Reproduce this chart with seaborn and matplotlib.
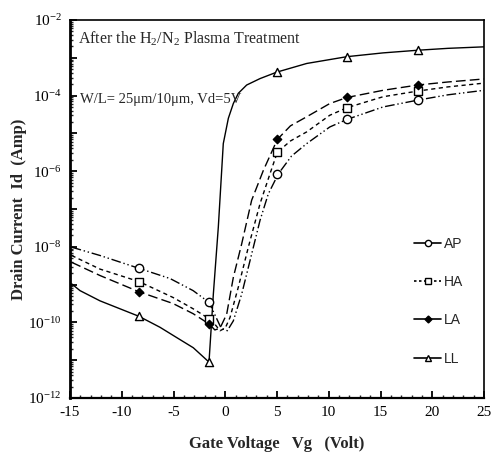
import numpy as np
import pandas as pd
import matplotlib
matplotlib.use("Agg")
import matplotlib.pyplot as plt
import seaborn as sns
from matplotlib.ticker import LogLocator, FuncFormatter, MultipleLocator, NullFormatter
from matplotlib.lines import Line2D

# ---------------- data (log10 of Id in A) ----------------
series_names = ["AP", "HA", "LA", "LL"]

ap_vg = [-14.84, -12.1, -8.33, -5.33, -3.1, -1.57, -1.0, -0.4, 0.2, 0.78, 1.59, 2.39, 3.36, 4.16, 5.13,
         6.4, 7.87, 10.1, 11.76, 15.25, 18.6, 21.5, 25.0]
ap_log = [-8.01, -8.23, -8.57, -8.84, -9.16, -9.47, -9.8, -10.15, -10.22, -9.96, -9.25, -8.37, -7.3, -6.6, -6.07,
          -5.6, -5.27, -4.83, -4.63, -4.3, -4.12, -3.98, -3.86]

ha_vg = [-14.84, -12.1, -8.33, -5.05, -3.1, -1.57, -1.0, -0.5, 0.0, 0.46, 1.26, 2.23, 3.36, 4.32, 5.03,
         6.3, 7.87, 10.1, 11.76, 15.25, 18.6, 21.5, 25.0]
ha_log = [-8.23, -8.59, -8.92, -9.34, -9.64, -9.9, -10.05, -10.22, -10.15, -9.87, -9.07, -8.01, -6.86, -6.07, -5.5,
          -5.2, -4.96, -4.52, -4.32, -4.03, -3.88, -3.77, -3.67]

la_vg = [-14.84, -12.1, -8.33, -5.05, -3.1, -1.57, -1.0, -0.5, 0.14, 0.78, 1.59, 2.55, 3.68, 5.03,
         6.3, 7.87, 10.1, 11.76, 15.25, 18.6, 21.5, 25.0]
la_log = [-8.41, -8.76, -9.19, -9.5, -9.77, -10.04, -10.2, -10.15, -9.78, -8.81, -7.92, -6.77, -5.98, -5.16,
          -4.8, -4.56, -4.21, -4.05, -3.86, -3.72, -3.64, -3.56]

ll_vg = [-14.84, -14.03, -12.1, -8.33, -6.3, -4.7, -3.09, -1.57, -1.15, -0.67, -0.19, 0.3, 0.78, 1.26,
         2.07, 3.36, 4.97, 7.87, 11.76, 15.25, 18.6, 21.5, 25.0]
ll_log = [-8.98, -9.16, -9.43, -9.84, -10.13, -10.4, -10.67, -11.05, -9.25, -7.48, -5.27, -4.6, -4.21, -3.94,
          -3.72, -3.55, -3.38, -3.15, -2.97, -2.87, -2.8, -2.75, -2.71]

# marker positions and values
marker_vg = [-8.33, -1.57, 5.03, 11.76, 18.6]
ap_mk_log = [-8.57, -9.47, -6.07, -4.63, -4.12]
ha_mk_log = [-8.92, -9.9, -5.5, -4.32, -3.88]
la_mk_log = [-9.19, -10.04, -5.16, -4.05, -3.72]
ll_mk_log = [-9.84, -11.05, -3.38, -2.97, -2.8]

x_ticks = [-15, -10, -5, 0, 5, 10, 15, 20, 25]

# ---------------- frames ----------------
curves = {"AP": (ap_vg, ap_log), "HA": (ha_vg, ha_log), "LA": (la_vg, la_log), "LL": (ll_vg, ll_log)}
rows = []
for name, (xs, ls) in curves.items():
    for x, l in zip(xs, ls):
        rows.append({"series": name, "Vg": x, "Id": 10.0 ** l})
df = pd.DataFrame(rows)

mks = {"AP": ap_mk_log, "HA": ha_mk_log, "LA": la_mk_log, "LL": ll_mk_log}
mrows = []
for name, ls in mks.items():
    for x, l in zip(marker_vg, ls):
        mrows.append({"series": name, "Vg": x, "Id": 10.0 ** l})
mdf = pd.DataFrame(mrows)

# ---------------- style ----------------
sns.set_theme(style="white")
plt.rcParams["font.family"] = ["Liberation Serif", "DejaVu Serif"]
plt.rcParams["mathtext.fontset"] = "custom"
plt.rcParams["mathtext.rm"] = "Liberation Serif"
plt.rcParams["mathtext.it"] = "Liberation Serif:italic"
plt.rcParams["mathtext.bf"] = "Liberation Serif:bold"

fig = plt.figure(figsize=(4.94, 4.53), dpi=100)
ax = fig.add_axes([70 / 494, 1 - 398 / 453, 414 / 494, 378 / 453])

dash_map = {"AP": (7, 2, 1, 2, 1, 2), "HA": (3, 2.5), "LA": (7, 3), "LL": ""}
sns.lineplot(data=df, x="Vg", y="Id", style="series", dashes=dash_map, color="black",
             linewidth=1.0, estimator=None, legend=False, ax=ax)

marker_style = {
    "AP": dict(marker="o", s=36, facecolor="white"),
    "HA": dict(marker="s", s=30, facecolor="white"),
    "LA": dict(marker="D", s=18, facecolor="black"),
    "LL": dict(marker="^", s=34, facecolor="white"),
}
for name in series_names:
    st = marker_style[name]
    sns.scatterplot(data=mdf[mdf["series"] == name], x="Vg", y="Id", marker=st["marker"], s=st["s"],
                    facecolor=st["facecolor"], edgecolor="black", linewidth=1.0, ax=ax, zorder=5)

ax.set_yscale("log")
ax.set_xlim(-15, 25)
ax.set_ylim(1e-12, 1e-2)

ax.xaxis.set_major_locator(MultipleLocator(5))
ax.xaxis.set_minor_locator(MultipleLocator(1))
ax.set_xticks(x_ticks)
ax.set_xticklabels([str(t) for t in x_ticks])

ax.yaxis.set_major_locator(LogLocator(base=10, numticks=20))
ax.yaxis.set_minor_locator(LogLocator(base=10, subs=np.arange(2, 10), numticks=20))
def yfmt(v, p):
    e = int(round(np.log10(v)))
    return f"$10^{{{e}}}$" if e % 2 == 0 else ""
ax.yaxis.set_major_formatter(FuncFormatter(yfmt))
ax.yaxis.set_minor_formatter(NullFormatter())

ax.tick_params(axis="both", which="major", direction="in", length=5, width=1.3, labelsize=11,
               colors="black", left=True, bottom=True, top=False, right=False, pad=6)
ax.tick_params(axis="both", which="minor", direction="in", length=2.5, width=1.0,
               left=True, bottom=True, top=False, right=False)

for side, sp in ax.spines.items():
    sp.set_color("black")
    sp.set_linewidth(1.2)
ax.spines["left"].set_linewidth(2.0)
ax.spines["bottom"].set_linewidth(1.6)

ax.set_xlabel("Gate Voltage   Vg   (Volt)", fontsize=12, fontweight="bold", labelpad=12)
ax.set_ylabel("Drain Current  Id  (Amp)", fontsize=12, fontweight="bold", labelpad=1)

ax.text(0.02, 0.975, r"After the H$_2$/N$_2$ Plasma Treatment", transform=ax.transAxes,
        fontsize=11.5, va="top", ha="left")
ax.text(0.025, 0.79, "W/L= 25μm/10μm, Vd=5V", transform=ax.transAxes,
        fontsize=10.5, va="center", ha="left")

handles = [
    Line2D([], [], color="black", lw=1.2, linestyle="-", marker="o", markersize=4.5, markerfacecolor="white"),
    Line2D([], [], color="black", lw=1.2, linestyle=(0, (1.5, 1.5)), marker="s", markersize=4.5, markerfacecolor="white"),
    Line2D([], [], color="black", lw=1.2, linestyle="-", marker="D", markersize=3.5, markerfacecolor="black"),
    Line2D([], [], color="black", lw=1.2, linestyle="-", marker="^", markersize=4.5, markerfacecolor="white"),
]
leg = ax.legend(handles, series_names, loc="upper left", bbox_to_anchor=(0.80, 0.46), frameon=False,
                handlelength=2.0, handletextpad=0.2, labelspacing=1.75,
                prop={"family": "Liberation Sans", "size": 10})

fig.savefig("out.png", dpi=100)
